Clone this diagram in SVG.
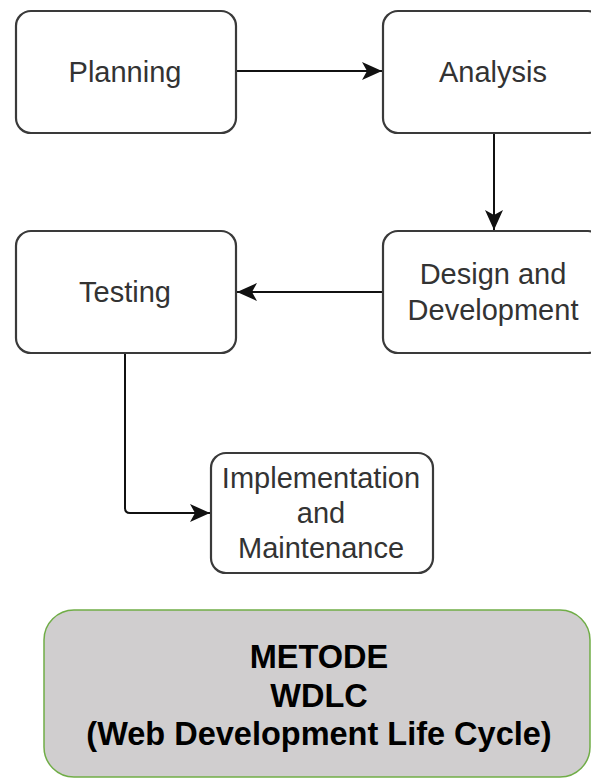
<svg xmlns="http://www.w3.org/2000/svg" width="591" height="778" viewBox="0 0 591 778">
<style>
.box{fill:#ffffff;stroke:#3a3a3a;stroke-width:2.2}
.lbl{font-family:"Liberation Sans",Arial,sans-serif;font-size:29px;fill:#333333;text-anchor:middle}
.conn{fill:none;stroke:#111111;stroke-width:2}
.title{font-family:"Liberation Sans",Arial,sans-serif;font-size:32.5px;font-weight:bold;fill:#000000;text-anchor:middle}
</style>
<defs>
<marker id="arr" markerUnits="userSpaceOnUse" markerWidth="22" markerHeight="20" refX="20" refY="9" orient="auto">
<path d="M0,0 L20,9 L0,18 L5,9 z" fill="#111111"/>
</marker>
</defs>
<rect width="591" height="778" fill="#ffffff"/>
<g id="connectors">
<path class="conn" d="M236,71 H382" marker-end="url(#arr)"/>
<path class="conn" d="M494,133 V230" marker-end="url(#arr)"/>
<path class="conn" d="M383,292 H237" marker-end="url(#arr)"/>
<path class="conn" d="M125,353 V508 Q125,513 130,513 H210" marker-end="url(#arr)"/>
</g>
<g id="planning">
<rect class="box" x="16" y="11" width="220" height="122" rx="15"/>
<text class="lbl" x="125" y="82">Planning</text>
</g>
<g id="analysis">
<rect class="box" x="383" y="11" width="220" height="122" rx="15"/>
<text class="lbl" x="493" y="82">Analysis</text>
</g>
<g id="design">
<rect class="box" x="383" y="231" width="220" height="122" rx="15"/>
<text class="lbl" x="493" y="284">Design and</text>
<text class="lbl" x="493" y="320">Development</text>
</g>
<g id="testing">
<rect class="box" x="16" y="231" width="220" height="122" rx="15"/>
<text class="lbl" x="125" y="302">Testing</text>
</g>
<g id="implementation">
<rect class="box" x="211" y="453" width="222" height="120" rx="15"/>
<text class="lbl" x="321" y="488">Implementation</text>
<text class="lbl" x="321" y="523">and</text>
<text class="lbl" x="321" y="558">Maintenance</text>
</g>
<g id="metode">
<rect x="44" y="610" width="546" height="167" rx="30" fill="#d0cecf" stroke="#70ad47" stroke-width="1.5"/>
<text class="title" x="319" y="668">METODE</text>
<text class="title" x="319" y="707">WDLC</text>
<text class="title" x="319" y="745">(Web Development Life Cycle)</text>
</g>
</svg>
